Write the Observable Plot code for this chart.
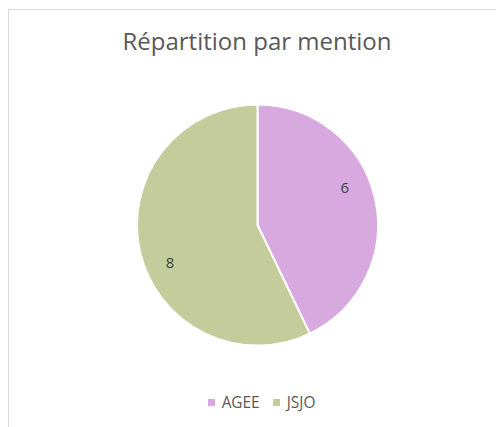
<!DOCTYPE html>
<html>
<head>
<meta charset="utf-8">
<script src="https://cdn.jsdelivr.net/npm/d3@7"></script>
<script src="https://cdn.jsdelivr.net/npm/@observablehq/plot@0.6"></script>
<style>
  html, body { margin: 0; padding: 0; background: #fff; }
  body { width: 496px; height: 427px; position: relative; overflow: hidden; font-family: "Open Sans", "Noto Sans", sans-serif; }
  #frame { position: absolute; left: 8px; top: 9px; width: 600px; height: 600px; border-left: 1.5px solid #d9d9d9; border-top: 1.5px solid #d9d9d9; box-sizing: border-box; }
  #title { position: absolute; left: 0; width: 514px; top: 25px; text-align: center; font-size: 24px; line-height: 1.362; color: #595959; }
  #chart { position: absolute; left: 0; top: 90px; }
  #legend { position: absolute; left: 0; width: 523px; top: 393px; text-align: center; font-size: 15.4px; line-height: 1.362; color: #595959; }
  .item { display: inline-block; margin: 0 6.5px; }
  .sw { display: inline-block; width: 7px; height: 7px; margin-right: 7px; vertical-align: 2px; }
</style>
</head>
<body>
<div id="frame"></div>
<div id="title">Répartition par mention</div>
<div id="chart"></div>
<div id="legend"></div>
<script>
const categories = ["AGEE", "JSJO"];
const values = [6, 8];
const colors = ["#d8a9df", "#c4cc9c"];

const data = categories.map((c, i) => ({name: c, value: values[i]}));

function pieMark(index, scales, vals, dims) {
  const cx = scales.x(0), cy = scales.y(0);
  const r = scales.x(1) - scales.x(0);
  const arcs = d3.pie().sort(null).value(d => d.value)(data);
  const arc = d3.arc().innerRadius(0).outerRadius(r);
  const g = d3.create("svg:g").attr("transform", `translate(${cx},${cy})`);
  g.selectAll("path").data(arcs).join("path")
    .attr("d", arc)
    .attr("fill", d => scales.color(d.data.name))
    .attr("stroke", "#fff")
    .attr("stroke-width", 2)
    .attr("stroke-linejoin", "round");
  const shift = -10.5 * Math.PI / 180;
  g.selectAll("text").data(arcs).join("text")
    .attr("x", d => 0.79 * r * Math.sin((d.startAngle + d.endAngle) / 2 + shift))
    .attr("y", d => -0.79 * r * Math.cos((d.startAngle + d.endAngle) / 2 + shift))
    .attr("text-anchor", "middle")
    .attr("dy", "0.35em")
    .attr("fill", "#404040")
    .attr("font-size", 15)
    .attr("font-family", "'Open Sans', 'Noto Sans', sans-serif")
    .text(d => d.data.value);
  return g.node();
}

const chart = Plot.plot({
  width: 496,
  height: 270,
  marginLeft: 137,
  marginRight: 118,
  marginTop: 14.5,
  marginBottom: 14.5,
  x: {domain: [-1, 1], axis: null},
  y: {domain: [-1, 1], axis: null},
  color: {domain: categories, range: colors},
  marks: [pieMark]
});
document.getElementById("chart").appendChild(chart);

const legend = document.getElementById("legend");
categories.forEach((c, i) => {
  const item = document.createElement("span");
  item.className = "item";
  const sw = document.createElement("span");
  sw.className = "sw";
  sw.style.background = colors[i];
  item.appendChild(sw);
  item.appendChild(document.createTextNode(c));
  legend.appendChild(item);
});
</script>
</body>
</html>
